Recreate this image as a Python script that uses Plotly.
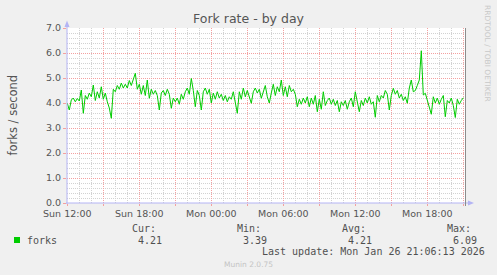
import plotly.graph_objects as go
import pandas as pd

# ---------------- data (10-minute samples) ----------------
series_start = "2026-01-25 12:00"
forks = [
    3.99, 3.72, 4.12, 4.20, 4.05, 4.18,   # Sun 12
    4.08, 4.52, 3.59, 4.30, 4.15, 4.40,   # Sun 13
    4.25, 4.72, 4.10, 4.45, 4.20, 4.65,   # Sun 14
    4.15, 4.40, 4.05, 3.80, 3.39, 4.55,   # Sun 15
    4.45, 4.70, 4.55, 4.80, 4.60, 4.75,   # Sun 16
    4.60, 4.90, 4.70, 4.95, 5.19, 4.55,   # Sun 17
    4.75, 4.35, 4.70, 4.30, 4.92, 4.19,   # Sun 18
    4.55, 4.35, 4.50, 4.30, 3.72, 4.40,   # Sun 19
    4.50, 4.30, 4.55, 4.35, 3.79, 4.20,   # Sun 20
    4.05, 4.20, 3.95, 4.35, 4.15, 4.45,   # Sun 21
    4.60, 4.35, 4.98, 4.50, 3.85, 4.50,   # Sun 22
    4.30, 3.72, 4.45, 4.60, 4.35, 4.55,   # Sun 23
    4.00, 4.40, 4.15, 4.45, 4.20, 4.35,   # Mon 00
    4.10, 4.30, 4.05, 4.25, 4.15, 4.45,   # Mon 01
    4.00, 3.59, 4.45, 4.15, 4.60, 4.25,   # Mon 02
    4.50, 4.20, 3.99, 4.45, 4.60, 4.40,   # Mon 03
    4.55, 4.19, 4.45, 4.70, 4.25, 4.00,   # Mon 04
    4.40, 4.75, 4.30, 4.65, 4.45, 4.92,   # Mon 05
    4.30, 4.65, 4.25, 4.70, 4.45, 4.55,   # Mon 06
    4.35, 3.85, 4.15, 3.95, 4.20, 4.00,   # Mon 07
    4.25, 3.85, 4.20, 3.95, 4.30, 3.65,   # Mon 08
    4.15, 3.75, 4.45, 3.90, 4.10, 4.20,   # Mon 09
    3.95, 4.15, 3.90, 4.10, 3.65, 4.05,   # Mon 10
    3.90, 4.10, 3.75, 4.05, 4.20, 3.85,   # Mon 11
    4.45, 4.00, 3.65, 4.10, 3.90, 4.20,   # Mon 12
    4.00, 4.25, 3.95, 4.05, 3.43, 4.30,   # Mon 13
    4.05, 4.30, 4.20, 4.50, 4.35, 3.72,   # Mon 14
    4.30, 4.59, 4.35, 4.50, 4.20, 4.35,   # Mon 15
    4.10, 4.25, 3.99, 4.60, 4.92, 4.45,   # Mon 16
    4.50, 4.70, 4.92, 6.09, 4.32, 4.39,   # Mon 17
    4.10, 3.85, 3.55, 4.25, 4.00, 4.20,   # Mon 18
    3.95, 4.15, 4.30, 3.45, 4.10, 4.00,   # Mon 19
    4.20, 3.90, 3.42, 4.15, 3.95, 4.10,   # Mon 20
    4.21,                                 # Mon 21
]

x_range = ["2026-01-25 11:58:30", "2026-01-26 21:13:30"]
tick_vals = ["2026-01-25 12:00", "2026-01-25 15:00", "2026-01-25 18:00", "2026-01-25 21:00",
             "2026-01-26 00:00", "2026-01-26 03:00", "2026-01-26 06:00", "2026-01-26 09:00",
             "2026-01-26 12:00", "2026-01-26 15:00", "2026-01-26 18:00", "2026-01-26 21:00"]
tick_text = ["Sun 12:00", "", "Sun 18:00", "", "Mon 00:00", "", "Mon 06:00", "",
             "Mon 12:00", "", "Mon 18:00", ""]

title_text = "Fork rate - by day"
y_label = "forks / second"
series_name = "forks"
stat_headers = ["Cur:", "Min:", "Avg:", "Max:"]
stat_values = ["4.21", "3.39", "4.21", "6.09"]
last_update = "Last update: Mon Jan 26 21:06:13 2026"
footer = "Munin 2.0.75"
side_text = "RRDTOOL / TOBI OETIKER"

# ---------------- figure ----------------
W, H = 497, 275
L, R, T, B = 67, 31, 28, 72
PW, PH = W - L - R, H - T - B


def px(x):
    return (x - L) / PW


def py(y):
    return (H - B - y) / PH


times = pd.date_range(series_start, periods=len(forks), freq="10min")

fig = go.Figure()
fig.add_trace(go.Scatter(x=times, y=forks, mode="lines",
                         line=dict(color="#00CC00", width=1), hoverinfo="skip"))

MAJ = "#F4A0A0"
MIN = "#D2D2D2"
fig.update_layout(
    width=W, height=H,
    margin=dict(l=L, r=R, t=T, b=B, pad=0, autoexpand=False),
    paper_bgcolor="#F0F0F0", plot_bgcolor="#FFFFFF",
    showlegend=False,
    font=dict(family="DejaVu Sans", color="#555555"),
    title=dict(text=title_text, x=0.5, xref="container", xanchor="center",
               y=1 - 19 / H, yref="container", yanchor="middle",
               font=dict(size=12.5, color="#555555", family="DejaVu Sans")),
    xaxis=dict(type="date", range=x_range, tickmode="array", tickvals=tick_vals,
               ticktext=tick_text, showgrid=True, gridcolor=MAJ, griddash="1px,1px",
               gridwidth=1, zeroline=False, showline=False,
               ticks="outside", ticklen=2, tickcolor=MAJ,
               tickfont=dict(size=9.5, color="#555555"),
               minor=dict(dtick=3600000, tick0="2026-01-25 12:00", showgrid=True,
                          gridcolor=MIN, griddash="1px,1px", gridwidth=1)),
    yaxis=dict(range=[0, 7], tickmode="linear", tick0=0, dtick=1, tickformat=".1f",
               showgrid=True, gridcolor=MAJ, griddash="1px,1px", gridwidth=1,
               zeroline=False, showline=False,
               ticks="outside", ticklen=3, tickcolor=MAJ,
               tickfont=dict(size=9.5, color="#555555"),
               minor=dict(dtick=0.2, tick0=0, showgrid=True, gridcolor=MIN,
                          griddash="1px,1px", gridwidth=1)),
)

AX = "#B4B4F4"
shapes = [
    # y axis line + arrow
    dict(type="line", xref="paper", yref="paper", x0=px(67), x1=px(67),
         y0=py(204), y1=py(24), line=dict(color=AX, width=1)),
    dict(type="path", xref="paper", yref="paper",
         path=f"M {px(64.5)},{py(27)} L {px(67)},{py(20.5)} L {px(69.5)},{py(27)} Z",
         fillcolor=AX, line=dict(color=AX, width=0)),
    # x axis line + arrow
    dict(type="line", xref="paper", yref="paper", x0=px(66), x1=px(469),
         y0=py(203), y1=py(203), line=dict(color=AX, width=1)),
    dict(type="path", xref="paper", yref="paper",
         path=f"M {px(468)},{py(200.5)} L {px(474)},{py(203)} L {px(468)},{py(205.5)} Z",
         fillcolor=AX, line=dict(color=AX, width=0)),
    # right border line
    dict(type="line", xref="paper", yref="paper", x0=px(465.5), x1=px(465.5),
         y0=py(206), y1=py(28), line=dict(color="#8C8C8C", width=1)),
    # legend swatch
    dict(type="rect", xref="paper", yref="paper", x0=px(14), x1=px(20),
         y0=py(243), y1=py(237), fillcolor="#00CC00", line=dict(width=0)),
]
fig.update_layout(shapes=shapes)

MONO = "DejaVu Sans Mono"


def text(s, x, y, size=10, family=MONO, color="#505050", xanchor="left", angle=0):
    fig.add_annotation(text=s, xref="paper", yref="paper", x=px(x), y=py(y),
                       xanchor=xanchor, yanchor="middle", showarrow=False,
                       textangle=angle, borderpad=0,
                       font=dict(size=size, family=family, color=color))


# y-axis label
text(y_label, 12, 115.5, size=11.5, family="DejaVu Sans", color="#555555",
     xanchor="center", angle=-90)
# side credit
text(side_text, 488, 53, size=7.5, family="DejaVu Sans", color="#C8C8C8",
     xanchor="center", angle=90)

# legend
header_x = [131, 236, 341, 446]
value_x = [137, 242, 347, 452]
for hx, hs in zip(header_x, stat_headers):
    text(hs, hx, 228.5, size=10)
text(series_name, 26, 240, size=10)
for vx, vs in zip(value_x, stat_values):
    text(vs, vx, 240, size=10)
text(last_update, 261, 251.5, size=10)
text(footer, 248, 264.5, size=7.5, family="DejaVu Sans", color="#C4C4C4", xanchor="center")

fig.write_html("out.html")
